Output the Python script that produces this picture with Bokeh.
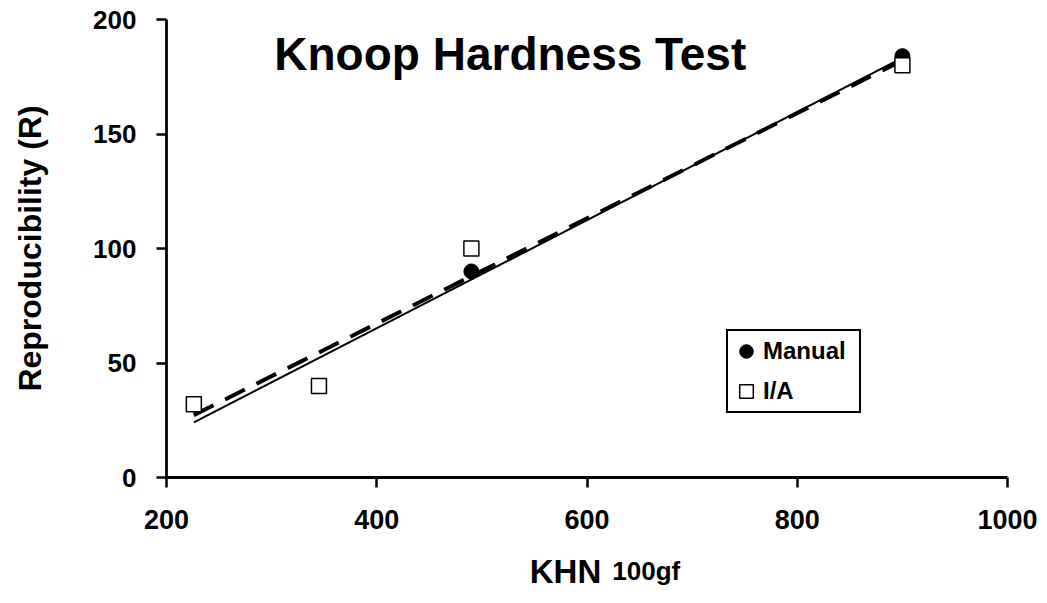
import numpy as np
from bokeh.plotting import figure
from bokeh.models import Range1d, FixedTicker, Label, Legend, LegendItem
from bokeh.embed import file_html
from bokeh.resources import INLINE

# ---- data ----
khn = [226, 345, 490, 900]
manual_r = [32, 40, 90, 184]
ia_r = [32, 40, 100, 180]
x_ticks = [200, 400, 600, 800, 1000]
y_ticks = [0, 50, 100, 150, 200]

FONT = "Liberation Sans"

# The frame covers the whole canvas; axes are pinned at x=200 / y=0 and bounded,
# so that every text (tick labels, axis titles) stays inside the frame.
p = figure(width=1045, height=601, output_backend="svg", toolbar_location=None,
           x_range=Range1d(42.1, 1036.1), y_range=Range1d(-54.1, 208.3),
           min_border=0)
p.outline_line_color = None
p.grid.visible = False
p.background_fill_color = "white"
p.border_fill_color = "white"

p.xaxis.fixed_location = 0
p.yaxis.fixed_location = 200
p.yaxis.bounds = (0, 200)
p.xaxis.bounds = (200, 1000)

for ax in (p.xaxis, p.yaxis):
    ax.axis_line_color = "black"
    ax.axis_line_width = 2.8
    ax.major_tick_line_color = "black"
    ax.major_tick_line_width = 2.5
    ax.major_tick_out = 10
    ax.major_tick_in = 0
    ax.minor_tick_line_color = None
    ax.major_label_text_font = FONT
    ax.major_label_text_font_style = "bold"
    ax.major_label_text_color = "black"
    ax.axis_label_text_font = FONT
    ax.axis_label_text_font_style = "bold"
    ax.axis_label_text_color = "black"

p.xaxis.ticker = FixedTicker(ticks=x_ticks)
p.yaxis.ticker = FixedTicker(ticks=y_ticks)
p.xaxis.major_label_text_font_size = "27px"
p.yaxis.major_label_text_font_size = "26px"
p.xaxis.major_label_standoff = 22
p.yaxis.major_label_standoff = 20
p.yaxis.axis_label = "Reproducibility (R)"
p.yaxis.axis_label_text_font_size = "32px"
p.yaxis.axis_label_standoff = 42

# regression lines
xs = np.array(khn, dtype=float)
xl = np.array([xs.min(), xs.max()])
m1, b1 = np.polyfit(xs, np.array(manual_r, dtype=float), 1)
m2, b2 = np.polyfit(xs, np.array(ia_r, dtype=float), 1)
p.line(xl, m1 * xl + b1, line_color="black", line_width=2)
p.line(xl, m2 * xl + b2, line_color="black", line_width=4, line_dash="22 13")

r_manual = p.scatter(khn, manual_r, marker="circle", size=15,
                     fill_color="black", line_color="black")
r_ia = p.scatter(khn, ia_r, marker="square", size=15,
                 fill_color="white", line_color="black", line_width=1.5)

legend = Legend(items=[LegendItem(label="Manual", renderers=[r_manual]),
                       LegendItem(label="I/A", renderers=[r_ia])],
                location=(726, 188))
legend.glyph_width = 34
legend.glyph_height = 38
legend.label_height = 38
legend.label_width = 95
legend.padding = 1
legend.spacing = 2
legend.label_standoff = 0
legend.label_text_font = FONT
legend.label_text_font_style = "bold"
legend.label_text_font_size = "24px"
legend.label_text_color = "black"
legend.border_line_color = "black"
legend.border_line_alpha = 1.0
legend.border_line_width = 2
legend.background_fill_color = "white"
legend.background_fill_alpha = 1.0
legend.margin = 0
p.add_layout(legend)

title = Label(x=527, y=185, text="Knoop Hardness Test", text_align="center",
              text_baseline="alphabetic", text_font=FONT,
              text_font_style="bold", text_font_size="46px", text_color="black")
p.add_layout(title)

lab1 = Label(x=579.5, y=-41.0, text="KHN", text_align="center",
             text_baseline="alphabetic", text_font=FONT,
             text_font_style="bold", text_font_size="33px", text_color="black")
lab2 = Label(x=624.0, y=-41.0, text="100gf", text_align="left",
             text_baseline="alphabetic", text_font=FONT,
             text_font_style="bold", text_font_size="26px", text_color="black")
p.add_layout(lab1)
p.add_layout(lab2)

open("out.html", "w").write(file_html(p, INLINE))
